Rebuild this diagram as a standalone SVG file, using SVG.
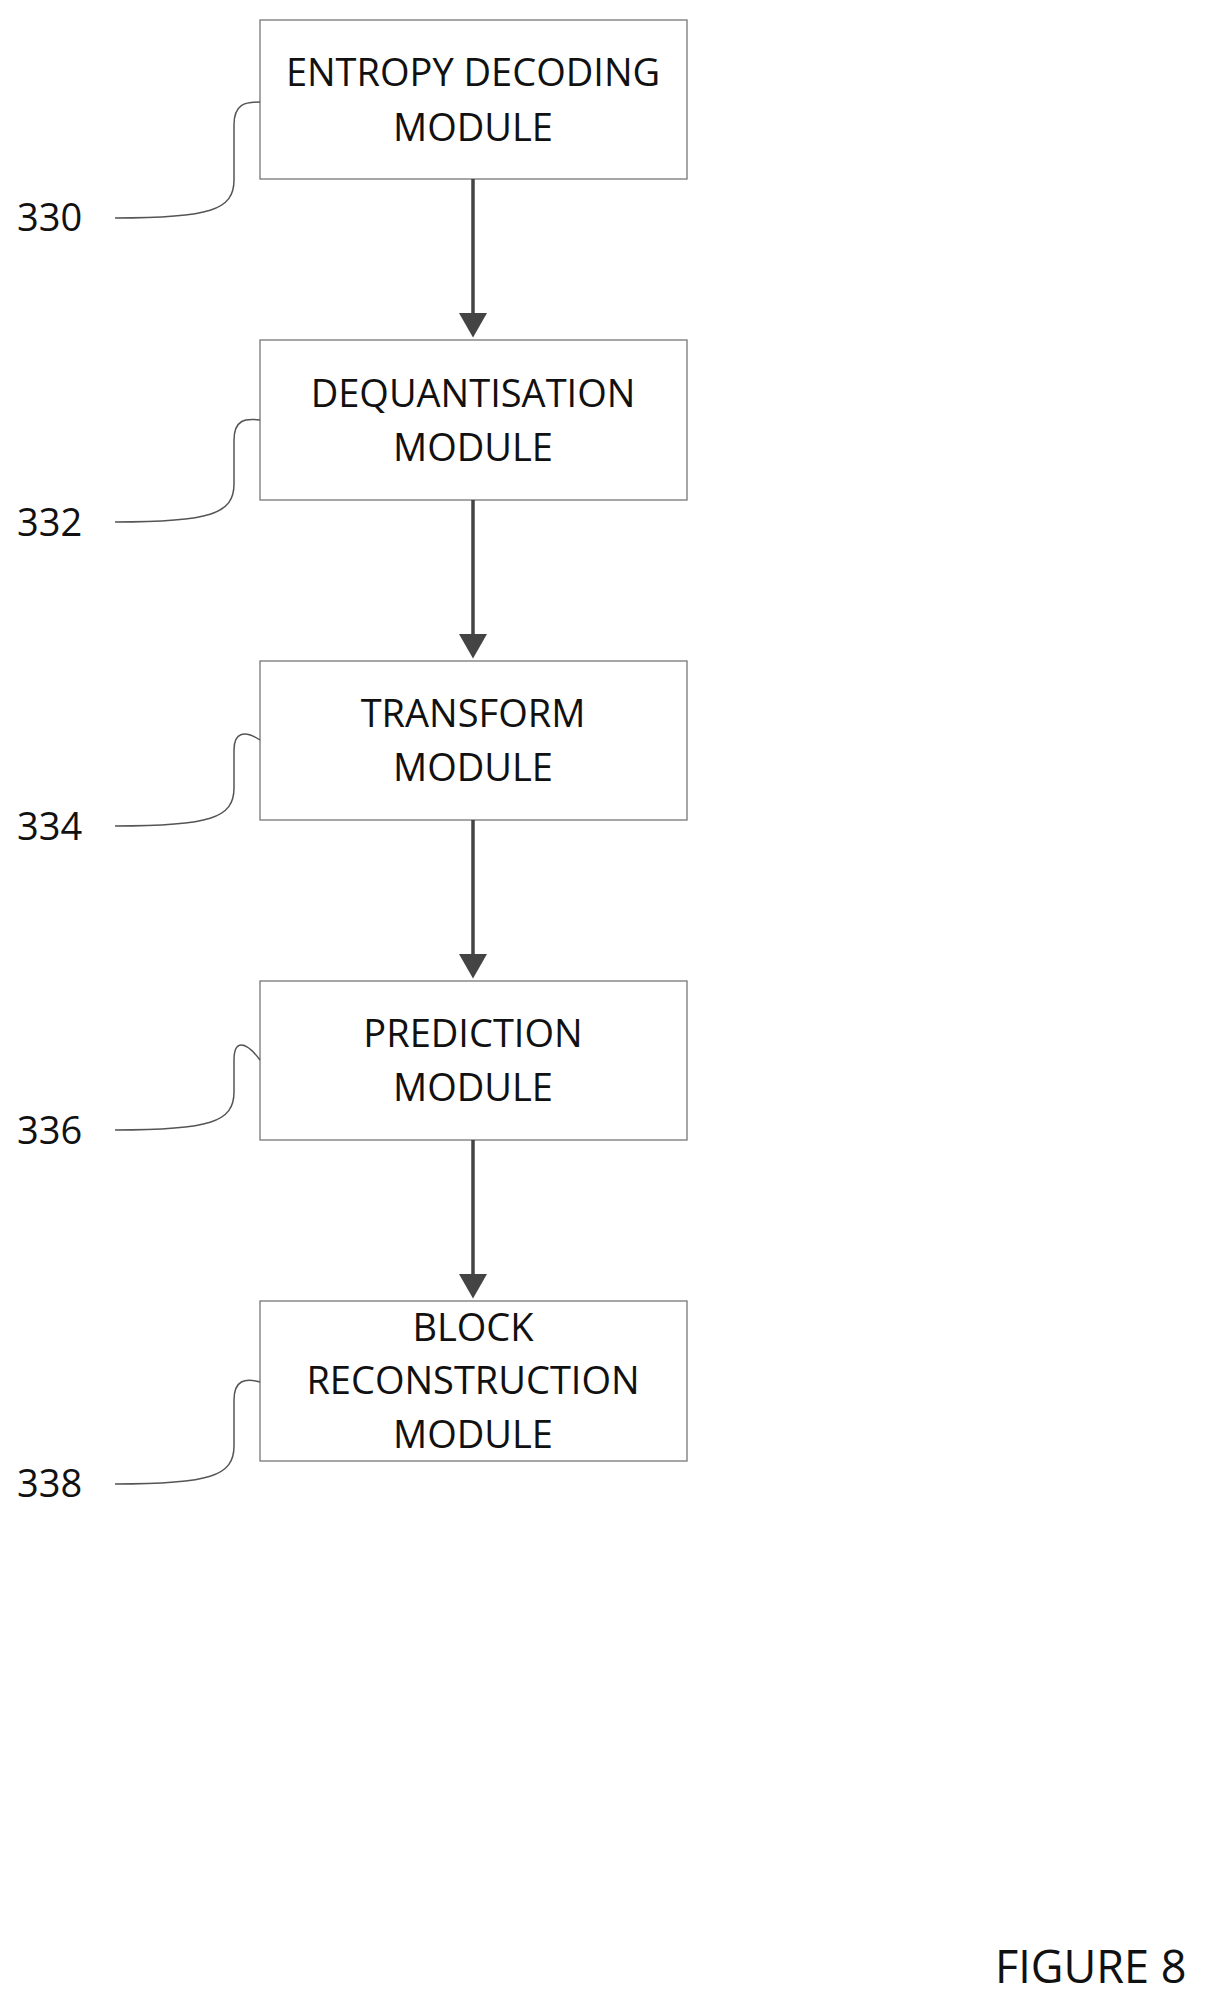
<svg xmlns="http://www.w3.org/2000/svg" width="1209" height="2005" viewBox="0 0 1209 2005">
<style>
.box{fill:#fff;stroke:#777;stroke-width:1.3}
.t{font-family:"Open Sans","Liberation Sans",sans-serif;font-size:38px;fill:#111;text-anchor:middle}
.lb{font-family:"Open Sans","Liberation Sans",sans-serif;font-size:38px;fill:#111}
.ld{fill:none;stroke:#555;stroke-width:1.5}
.ar{stroke:#444;stroke-width:3.5;fill:none;marker-end:url(#ah)}
</style>
<defs><marker id="ah" markerWidth="8" markerHeight="8" refX="6" refY="4" orient="auto" markerUnits="strokeWidth"><path d="M0,0 L7,4 L0,8 Z" fill="#444"/></marker></defs>
<rect width="1209" height="2005" fill="#fff"/>
<g id="n330"><rect class="box" x="260" y="20" width="427" height="159"/><text class="t" x="473" y="86">ENTROPY DECODING</text><text class="t" x="473" y="141">MODULE</text></g>
<g id="n332"><rect class="box" x="260" y="340" width="427" height="160"/><text class="t" x="473" y="407">DEQUANTISATION</text><text class="t" x="473" y="461">MODULE</text></g>
<g id="n334"><rect class="box" x="260" y="661" width="427" height="159"/><text class="t" x="473" y="727">TRANSFORM</text><text class="t" x="473" y="781">MODULE</text></g>
<g id="n336"><rect class="box" x="260" y="981" width="427" height="159"/><text class="t" x="473" y="1047">PREDICTION</text><text class="t" x="473" y="1101">MODULE</text></g>
<g id="n338"><rect class="box" x="260" y="1301" width="427" height="160"/><text class="t" x="473" y="1341">BLOCK</text><text class="t" x="473" y="1394">RECONSTRUCTION</text><text class="t" x="473" y="1448">MODULE</text></g>
<g id="labels">
<text class="lb" x="17" y="231">330</text><text class="lb" x="17" y="536">332</text><text class="lb" x="17" y="840">334</text><text class="lb" x="17" y="1144">336</text><text class="lb" x="17" y="1497">338</text>
<text class="lb" x="995" y="1983" style="font-size:45px">FIGURE 8</text>
</g>
<g id="connectors">
<path class="ar" d="M473,179 V334"/><path class="ar" d="M473,500 V655"/><path class="ar" d="M473,820 V975"/><path class="ar" d="M473,1140 V1295"/>
<path class="ld" d="M115,218 C210,218 234,210 234,180 L234,125 C234,104 245,102 260,102"/>
<path class="ld" d="M115,522 C210,522 234,514 234,484 L234,440 C234,420 245,418 260,420"/>
<path class="ld" d="M115,826 C210,826 234,818 234,788 L234,750 C234,732 245,730 260,740"/>
<path class="ld" d="M115,1130 C210,1130 234,1122 234,1092 L234,1060 C234,1040 245,1040 260,1060"/>
<path class="ld" d="M115,1484 C210,1484 234,1476 234,1446 L234,1400 C234,1380 245,1378 260,1382"/>
</g>
</svg>
